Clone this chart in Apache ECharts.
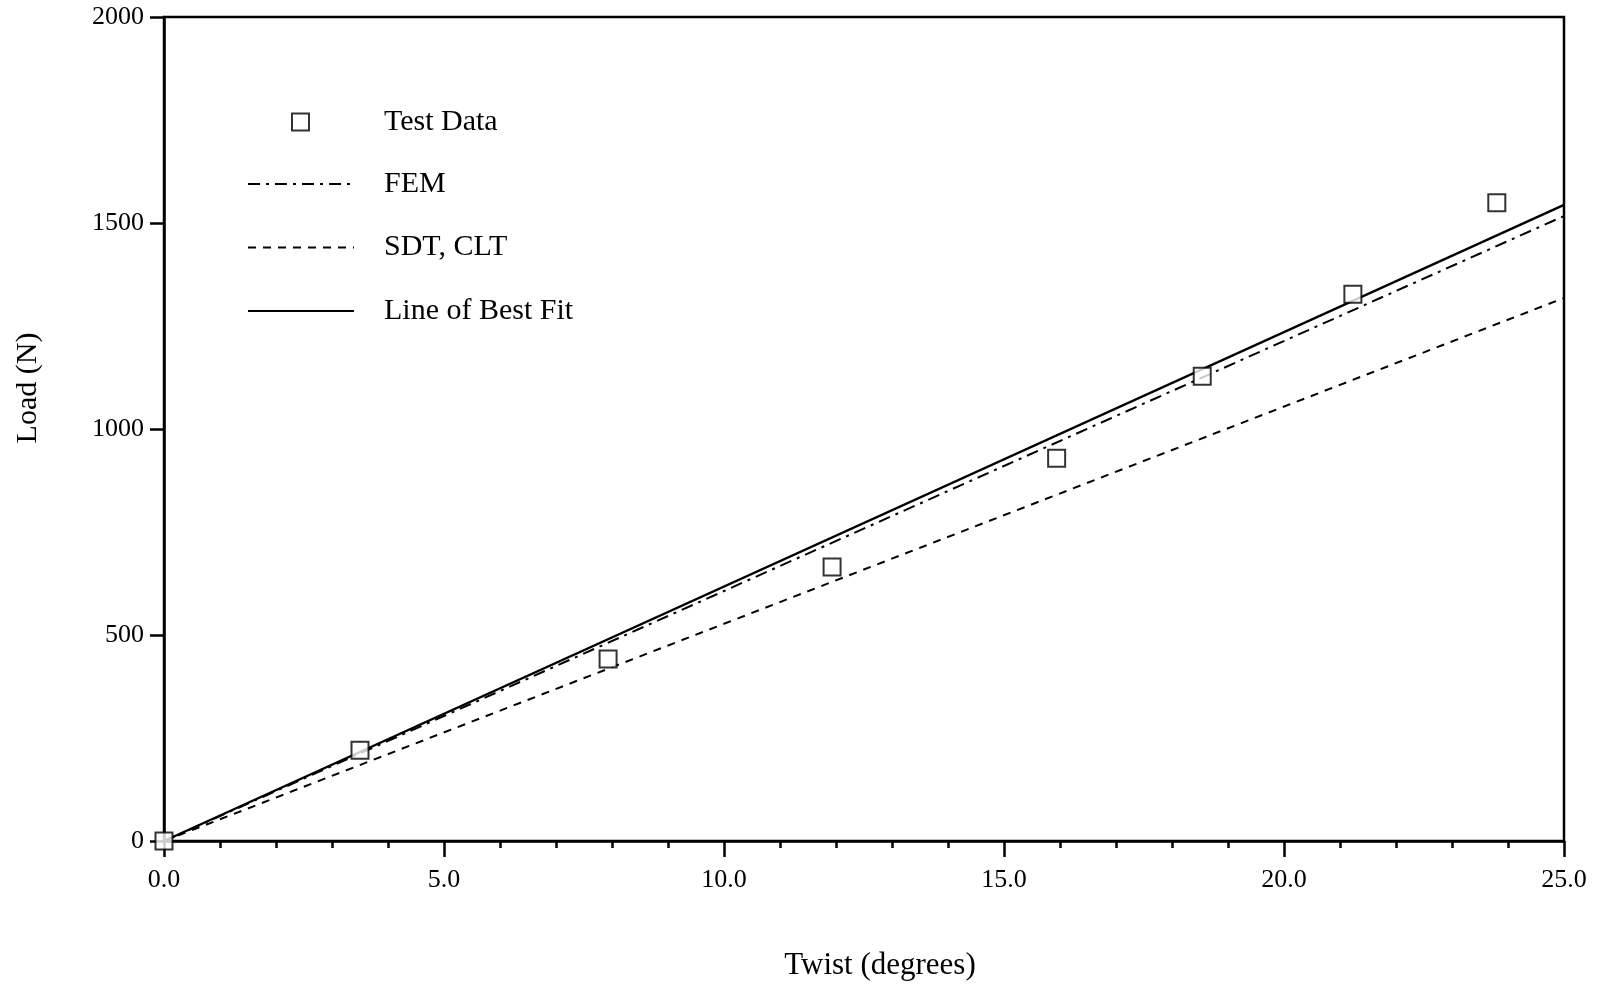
<!DOCTYPE html>
<html>
<head>
<meta charset="utf-8">
<script src="https://cdn.jsdelivr.net/npm/echarts@6/dist/echarts.min.js"></script>
<style>html,body{margin:0;padding:0;background:#fff}#c{width:1599px;height:987px}</style>
</head>
<body>
<div id="c"></div>
<script>
// Test data (twist in degrees, load in N)
const testTwist = [0, 3.5, 7.93, 11.93, 15.94, 18.54, 21.23, 23.8];
const testLoad  = [0, 220, 442, 665, 929, 1128, 1327, 1549];
// Model lines (endpoints)
const femTwist  = [0, 25];
const femLoad   = [0, 1517];
const sdtTwist  = [0, 25];
const sdtLoad   = [0, 1318];
const fitTwist  = [0, 25];
const fitLoad   = [0, 1544];
const xTicks = [0, 5, 10, 15, 20, 25];
const yTicks = [0, 500, 1000, 1500, 2000];

const zip = (a, b) => a.map((v, i) => [v, b[i]]);
const FONT = '"Liberation Serif", "Times New Roman", serif';

const chart = echarts.init(document.getElementById('c'), null, {renderer: 'canvas'});
chart.setOption({
  backgroundColor: '#fff',
  animation: false,
  textStyle: {fontFamily: FONT, color: '#000'},
  grid: {left: 164, right: 35, top: 17, bottom: 146, show: true, borderColor: '#000', borderWidth: 2.5, backgroundColor: 'transparent'},
  legend: [
    {
      data: ['Test Data'], left: 291, top: 107, padding: 0, itemWidth: 17, itemHeight: 17,
      textStyle: {fontFamily: FONT, fontSize: 30, color: '#000', padding: [0, 0, 0, 70]},
      selectedMode: false
    },
    {
      data: ['FEM', 'SDT, CLT', 'Line of Best Fit'], orient: 'vertical', left: 247, top: 169, padding: 0,
      itemWidth: 106, itemHeight: 20, itemGap: 33.5,
      itemStyle: {color: 'transparent', borderWidth: 0, opacity: 0},
      textStyle: {fontFamily: FONT, fontSize: 30, color: '#000', lineHeight: 30, padding: [0, 0, 0, 25]},
      selectedMode: false
    }
  ],
  xAxis: {
    type: 'value', min: 0, max: 25, interval: 5,
    name: 'Twist (degrees)', nameLocation: 'middle', nameGap: 109,
    nameTextStyle: {fontFamily: FONT, fontSize: 31, color: '#000', padding: [0, 0, 0, 32]},
    axisLine: {show: true, lineStyle: {color: '#000', width: 2.5}},
    axisTick: {show: true, inside: false, length: 16, lineStyle: {color: '#000', width: 2.5}},
    minorTick: {show: true, splitNumber: 5, length: 7, lineStyle: {color: '#000', width: 2.5}},
    axisLabel: {fontFamily: FONT, fontSize: 26, color: '#000', margin: 26,
      formatter: v => xTicks.includes(v) ? v.toFixed(1) : ''},
    splitLine: {show: false}
  },
  yAxis: {
    type: 'value', min: 0, max: 2000, interval: 500,
    name: 'Load (N)', nameLocation: 'middle', nameGap: 121, nameRotate: 90,
    nameTextStyle: {fontFamily: FONT, fontSize: 30, color: '#000', padding: [0, 0, 0, 82]},
    axisLine: {show: true, lineStyle: {color: '#000', width: 2.5}},
    axisTick: {show: true, inside: false, length: 14, lineStyle: {color: '#000', width: 2.5}},
    axisLabel: {fontFamily: FONT, fontSize: 26, color: '#000', margin: 20,
      formatter: v => yTicks.includes(v) ? String(v) : ''},
    splitLine: {show: false}
  },
  series: [
    {
      name: 'FEM', type: 'line', data: zip(femTwist, femLoad), symbol: 'none', showSymbol: false,
      lineStyle: {color: '#000', width: 2, type: [12, 6, 3, 6]}, itemStyle: {color: '#000'}, z: 2
    },
    {
      name: 'SDT, CLT', type: 'line', data: zip(sdtTwist, sdtLoad), symbol: 'none', showSymbol: false,
      lineStyle: {color: '#000', width: 2, type: [8, 7]}, itemStyle: {color: '#000'}, z: 2
    },
    {
      name: 'Line of Best Fit', type: 'line', data: zip(fitTwist, fitLoad), symbol: 'none', showSymbol: false,
      lineStyle: {color: '#000', width: 2.4, type: 'solid'}, itemStyle: {color: '#000'}, z: 2
    },
    {
      name: 'Test Data', type: 'scatter', data: zip(testTwist, testLoad), symbol: 'rect', symbolSize: 17,
      itemStyle: {color: '#fff', borderColor: '#000', borderWidth: 2}, z: 5
    }
  ]
});
</script>
</body>
</html>
